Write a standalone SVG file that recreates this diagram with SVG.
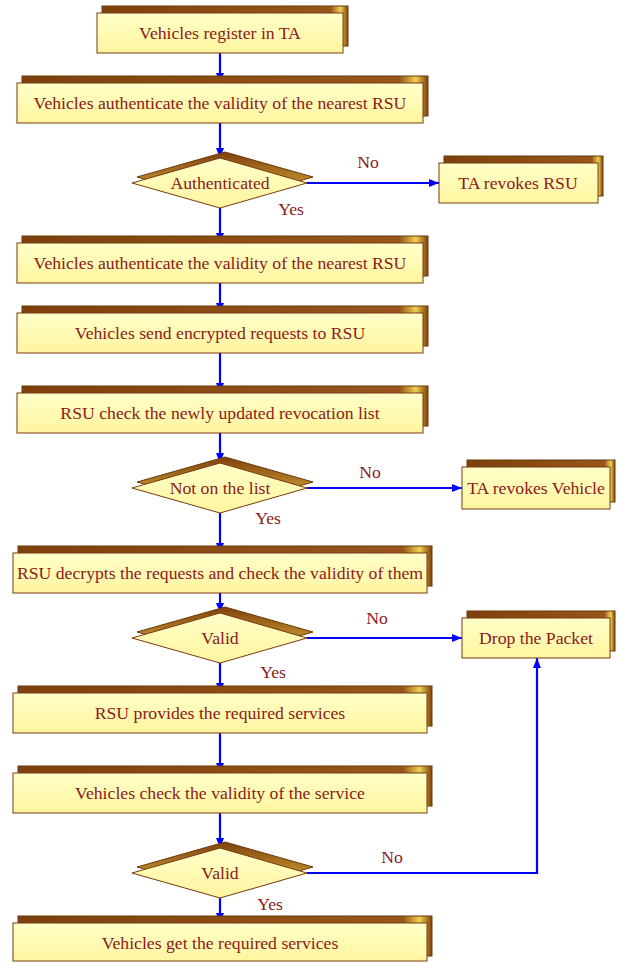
<svg xmlns="http://www.w3.org/2000/svg" width="618" height="963" viewBox="0 0 618 963">
<defs>
<linearGradient id="face" x1="0" y1="0" x2="0" y2="1">
<stop offset="0" stop-color="#FFFFC8"/>
<stop offset="1" stop-color="#FFF5A0"/>
</linearGradient>
<linearGradient id="back" x1="0" y1="0" x2="1" y2="0">
<stop offset="0" stop-color="#7E400C"/>
<stop offset="0.93" stop-color="#98561A"/>
<stop offset="0.97" stop-color="#F0D050"/>
<stop offset="1" stop-color="#7E400C"/>
</linearGradient>
<linearGradient id="dback" x1="0" y1="0" x2="0" y2="1">
<stop offset="0" stop-color="#7E400C"/>
<stop offset="1" stop-color="#E8C040"/>
</linearGradient>
<marker id="arr" markerWidth="10" markerHeight="8" refX="10" refY="4" orient="auto" markerUnits="userSpaceOnUse">
<path d="M0,0 L10,4 L0,8 Z" fill="#0000FF"/>
</marker>
<style>
.bk{fill:url(#back);stroke:#6B3A0A;stroke-width:1}
.fc{fill:url(#face);stroke:#7A3A10;stroke-width:1}
.dbk{fill:url(#dback);stroke:#6B3A0A;stroke-width:1}
.t{font-family:"Liberation Serif","Times New Roman",serif;font-size:17.7px;fill:#8B1A1A;text-anchor:middle}
.c{stroke:#0000FF;stroke-width:2.2;fill:none;marker-end:url(#arr)}
</style>
</defs>

<g id="connectors">
<line class="c" x1="220" y1="53" x2="220" y2="83"/>
<line class="c" x1="220" y1="123" x2="220" y2="158"/>
<line class="c" x1="220" y1="208" x2="220" y2="243"/>
<line class="c" x1="220" y1="283" x2="220" y2="313"/>
<line class="c" x1="220" y1="353" x2="220" y2="393"/>
<line class="c" x1="220" y1="433" x2="220" y2="463"/>
<line class="c" x1="220" y1="513" x2="220" y2="553"/>
<line class="c" x1="220" y1="593" x2="220" y2="613"/>
<line class="c" x1="220" y1="663" x2="220" y2="693"/>
<line class="c" x1="220" y1="733" x2="220" y2="773"/>
<line class="c" x1="220" y1="813" x2="220" y2="848"/>
<line class="c" x1="220" y1="898" x2="220" y2="923"/>
<line class="c" x1="307" y1="183" x2="439" y2="183"/>
<line class="c" x1="307" y1="488" x2="462" y2="488"/>
<line class="c" x1="307" y1="638" x2="462" y2="638"/>
<polyline class="c" points="307,873 537,873 537,658"/>
<text class="t" x="368" y="168">No</text>
<text class="t" x="291" y="215">Yes</text>
<text class="t" x="370" y="478">No</text>
<text class="t" x="268" y="524">Yes</text>
<text class="t" x="377" y="624">No</text>
<text class="t" x="273" y="678">Yes</text>
<text class="t" x="392" y="863">No</text>
<text class="t" x="270" y="910">Yes</text>
</g>

<g id="n1"><rect class="bk" x="102" y="6" width="246" height="40"/><rect class="fc" x="97" y="13" width="246" height="40"/><text class="t" x="220" y="39">Vehicles register in TA</text></g>
<g id="n2"><rect class="bk" x="22" y="76" width="406" height="40"/><rect class="fc" x="17" y="83" width="406" height="40"/><text class="t" x="220" y="109">Vehicles authenticate the validity of the nearest RSU</text></g>
<g id="d1"><polygon class="dbk" points="225,152 313,177 225,202 137,177"/><polygon class="fc" points="220,158 307,183 220,208 132,183"/><text class="t" x="220" y="189">Authenticated</text></g>
<g id="n3"><rect class="bk" x="444" y="156" width="159" height="40"/><rect class="fc" x="439" y="163" width="159" height="40"/><text class="t" x="518" y="189">TA revokes RSU</text></g>
<g id="n4"><rect class="bk" x="22" y="236" width="406" height="40"/><rect class="fc" x="17" y="243" width="406" height="40"/><text class="t" x="220" y="269">Vehicles authenticate the validity of the nearest RSU</text></g>
<g id="n5"><rect class="bk" x="22" y="306" width="406" height="40"/><rect class="fc" x="17" y="313" width="406" height="40"/><text class="t" x="220" y="339">Vehicles send encrypted requests to RSU</text></g>
<g id="n6"><rect class="bk" x="22" y="386" width="406" height="40"/><rect class="fc" x="17" y="393" width="406" height="40"/><text class="t" x="220" y="419">RSU check the newly updated revocation list</text></g>
<g id="d2"><polygon class="dbk" points="225,457 313,482 225,507 137,482"/><polygon class="fc" points="220,463 307,488 220,513 132,488"/><text class="t" x="220" y="494">Not on the list</text></g>
<g id="n7"><rect class="bk" x="467" y="460" width="148" height="42"/><rect class="fc" x="462" y="467" width="148" height="42"/><text class="t" x="536" y="494">TA revokes Vehicle</text></g>
<g id="n8"><rect class="bk" x="18" y="546" width="414" height="40"/><rect class="fc" x="13" y="553" width="414" height="40"/><text class="t" x="220" y="579">RSU decrypts the requests and check the validity of them</text></g>
<g id="d3"><polygon class="dbk" points="225,607 313,632 225,657 137,632"/><polygon class="fc" points="220,613 307,638 220,663 132,638"/><text class="t" x="220" y="644">Valid</text></g>
<g id="n9"><rect class="bk" x="467" y="611" width="148" height="40"/><rect class="fc" x="462" y="618" width="148" height="40"/><text class="t" x="536" y="644">Drop the Packet</text></g>
<g id="n10"><rect class="bk" x="18" y="686" width="414" height="40"/><rect class="fc" x="13" y="693" width="414" height="40"/><text class="t" x="220" y="719">RSU provides the required services</text></g>
<g id="n11"><rect class="bk" x="18" y="766" width="414" height="40"/><rect class="fc" x="13" y="773" width="414" height="40"/><text class="t" x="220" y="799">Vehicles check the validity of the service</text></g>
<g id="d4"><polygon class="dbk" points="225,842 313,867 225,892 137,867"/><polygon class="fc" points="220,848 307,873 220,898 132,873"/><text class="t" x="220" y="879">Valid</text></g>
<g id="n12"><rect class="bk" x="18" y="916" width="414" height="40"/><rect class="fc" x="13" y="923" width="414" height="38"/><text class="t" x="220" y="949">Vehicles get the required services</text></g>
</svg>
